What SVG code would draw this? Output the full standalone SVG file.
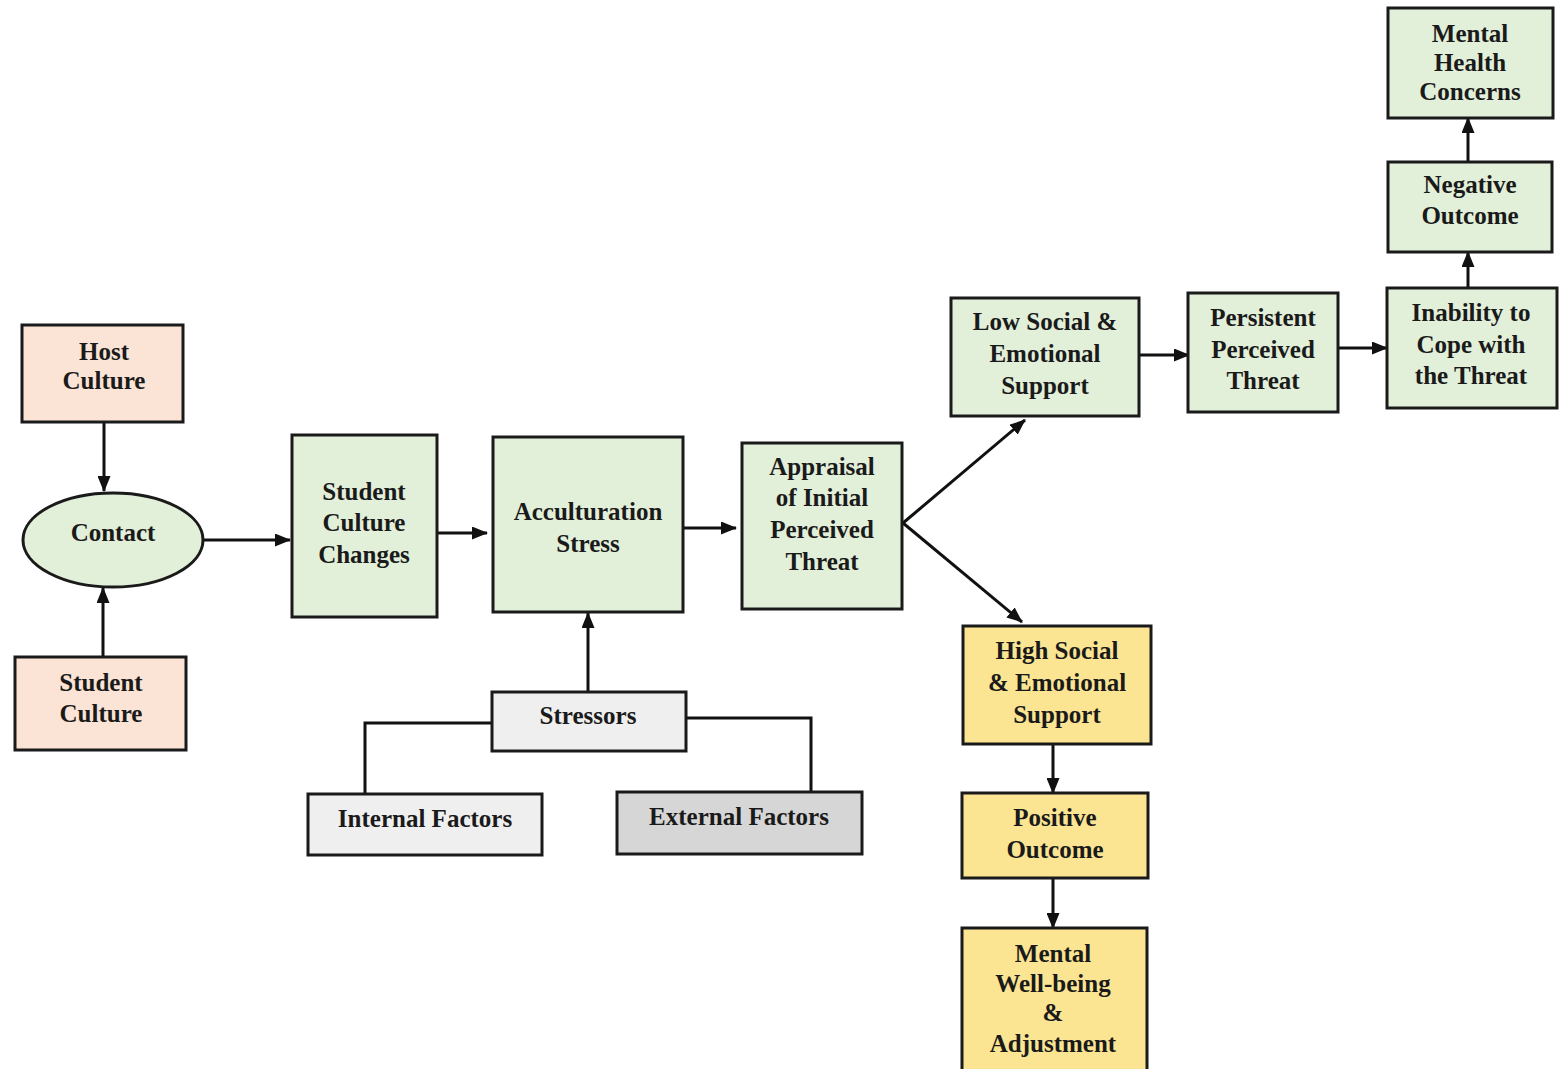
<svg xmlns="http://www.w3.org/2000/svg" width="1567" height="1069" viewBox="0 0 1567 1069">
<defs>
<marker id="ah" markerUnits="userSpaceOnUse" markerWidth="16" markerHeight="13" refX="15" refY="6.5" orient="auto">
<path d="M0,0 L16,6.5 L0,13 z" fill="#111"/>
</marker>
<style>
.box{stroke:#1a1a1a;stroke-width:3}
.g{fill:#e2efd9}
.p{fill:#fbe4d5}
.y{fill:#fbe592}
.w{fill:#efefef}
.d{fill:#d6d6d6}
text{font-family:"Liberation Serif","Times New Roman",serif;font-weight:bold;font-size:25px;fill:#1a1a1a;text-anchor:middle}
.c{fill:none;stroke:#111;stroke-width:3}
</style>
</defs>
<rect width="1567" height="1069" fill="#ffffff"/>
<g id="connectors">
<line class="c" x1="104" y1="422" x2="104" y2="491" marker-end="url(#ah)"/>
<line class="c" x1="103" y1="657" x2="103" y2="588" marker-end="url(#ah)"/>
<line class="c" x1="203" y1="540" x2="290" y2="540" marker-end="url(#ah)"/>
<line class="c" x1="437" y1="533" x2="487" y2="533" marker-end="url(#ah)"/>
<line class="c" x1="683" y1="528" x2="736" y2="528" marker-end="url(#ah)"/>
<line class="c" x1="903" y1="523" x2="1025" y2="420" marker-end="url(#ah)"/>
<line class="c" x1="903" y1="523" x2="1022" y2="622" marker-end="url(#ah)"/>
<line class="c" x1="1139" y1="355" x2="1189" y2="355" marker-end="url(#ah)"/>
<line class="c" x1="1338" y1="348" x2="1387" y2="348" marker-end="url(#ah)"/>
<line class="c" x1="1468" y1="288" x2="1468" y2="252" marker-end="url(#ah)"/>
<line class="c" x1="1468" y1="162" x2="1468" y2="118" marker-end="url(#ah)"/>
<line class="c" x1="1053" y1="744" x2="1053" y2="793" marker-end="url(#ah)"/>
<line class="c" x1="1053" y1="878" x2="1053" y2="928" marker-end="url(#ah)"/>
<line class="c" x1="588" y1="692" x2="588" y2="613" marker-end="url(#ah)"/>
<polyline class="c" points="492,723 365,723 365,794"/>
<polyline class="c" points="686,718 811,718 811,792"/>
</g>
<g id="host-culture"><rect class="box p" x="22" y="325" width="161" height="97"/><text x="104" y="360">Host</text><text x="104" y="389">Culture</text></g>
<g id="contact"><ellipse class="box g" cx="113" cy="540" rx="90" ry="47"/><text x="113" y="541">Contact</text></g>
<g id="student-culture"><rect class="box p" x="15" y="657" width="171" height="93"/><text x="101" y="691">Student</text><text x="101" y="722">Culture</text></g>
<g id="student-culture-changes"><rect class="box g" x="292" y="435" width="145" height="182"/><text x="364" y="500">Student</text><text x="364" y="531">Culture</text><text x="364" y="563">Changes</text></g>
<g id="acculturation-stress"><rect class="box g" x="493" y="437" width="190" height="175"/><text x="588" y="520">Acculturation</text><text x="588" y="552">Stress</text></g>
<g id="appraisal"><rect class="box g" x="742" y="443" width="160" height="166"/><text x="822" y="475">Appraisal</text><text x="822" y="506">of Initial</text><text x="822" y="538">Perceived</text><text x="822" y="570">Threat</text></g>
<g id="low-support"><rect class="box g" x="951" y="298" width="188" height="118"/><text x="1045" y="330">Low Social &amp;</text><text x="1045" y="362">Emotional</text><text x="1045" y="394">Support</text></g>
<g id="persistent-threat"><rect class="box g" x="1188" y="293" width="150" height="119"/><text x="1263" y="326">Persistent</text><text x="1263" y="358">Perceived</text><text x="1263" y="389">Threat</text></g>
<g id="inability-cope"><rect class="box g" x="1387" y="288" width="170" height="120"/><text x="1471" y="321">Inability to</text><text x="1471" y="353">Cope with</text><text x="1471" y="384">the Threat</text></g>
<g id="negative-outcome"><rect class="box g" x="1388" y="162" width="164" height="90"/><text x="1470" y="193">Negative</text><text x="1470" y="224">Outcome</text></g>
<g id="mental-health-concerns"><rect class="box g" x="1388" y="8" width="165" height="110"/><text x="1470" y="42">Mental</text><text x="1470" y="71">Health</text><text x="1470" y="100">Concerns</text></g>
<g id="high-support"><rect class="box y" x="963" y="626" width="188" height="118"/><text x="1057" y="659">High Social</text><text x="1057" y="691">&amp; Emotional</text><text x="1057" y="723">Support</text></g>
<g id="positive-outcome"><rect class="box y" x="962" y="793" width="186" height="85"/><text x="1055" y="826">Positive</text><text x="1055" y="858">Outcome</text></g>
<g id="mental-wellbeing"><rect class="box y" x="962" y="928" width="185" height="145"/><text x="1053" y="962">Mental</text><text x="1053" y="992">Well-being</text><text x="1053" y="1021">&amp;</text><text x="1053" y="1052">Adjustment</text></g>
<g id="stressors"><rect class="box w" x="492" y="692" width="194" height="59"/><text x="588" y="724">Stressors</text></g>
<g id="internal-factors"><rect class="box w" x="308" y="794" width="234" height="61"/><text x="425" y="827">Internal Factors</text></g>
<g id="external-factors"><rect class="box d" x="617" y="792" width="245" height="62"/><text x="739" y="825">External Factors</text></g>
</svg>
